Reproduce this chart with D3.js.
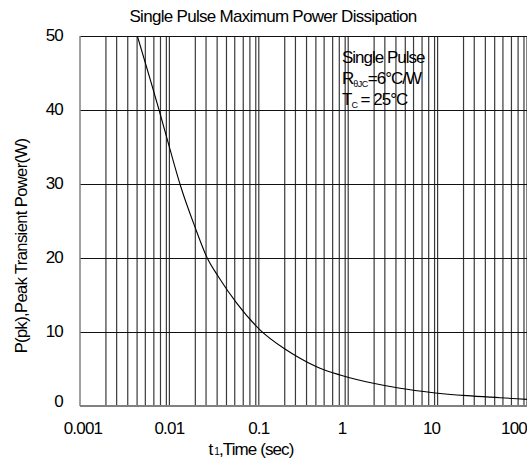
<!DOCTYPE html>
<html><head><meta charset="utf-8">
<script src="https://cdn.jsdelivr.net/npm/d3@7"></script>
<style>
html,body{margin:0;padding:0;background:#fff;}
svg{display:block;font-family:"Liberation Sans",Arial,sans-serif;}
</style></head>
<body>
<script>
// ---- data ----
const timeSec = [0.00438, 0.00766, 0.0102, 0.0132, 0.0193, 0.0265, 0.0352, 0.0566, 0.103, 0.196, 0.289, 0.484, 0.81, 1.91, 3.8, 8.95, 21.2, 49.9, 100];
const powerW  = [50, 40, 34.6, 29.9, 24.2, 20, 17.5, 13.9, 10.3, 7.7, 6.45, 5.1, 4.2, 3.07, 2.39, 1.8, 1.4, 1.12, 0.9];
const xTickValues = [0.001, 0.01, 0.1, 1, 10, 100];
const xTickLabels = ["0.001", "0.01", "0.1", "1", "10", "100"];
const yTickValues = [0, 10, 20, 30, 40, 50];
const decadeStarts = [0.001, 0.01, 0.1, 1, 10];
const gridMultipliers = [1.95, 2.57, 3.42, 4.35, 5.38, 6.7, 7.95, 9.25];
const titleText = "Single Pulse Maximum Power Dissipation";

const W = 527, H = 461;
const m = {left: 80, right: 0, top: 36, bottom: 55};
const svg = d3.select("body").append("svg").attr("width", W).attr("height", H);

const x = d3.scaleLog().domain([0.001, 100]).range([m.left, W - m.right]);
const y = d3.scaleLinear().domain([0, 50]).range([H - m.bottom, m.top]);

svg.append("defs").append("clipPath").attr("id", "clip")
  .append("rect").attr("x", m.left).attr("y", m.top)
  .attr("width", W - m.right - m.left).attr("height", H - m.bottom - m.top);

// vertical grid
const vgrid = [];
decadeStarts.forEach(d => { gridMultipliers.forEach(k => vgrid.push(d * k)); vgrid.push(d * 10); });
svg.append("g").selectAll("line").data(vgrid).join("line")
  .attr("x1", d => x(d)).attr("x2", d => x(d))
  .attr("y1", y(50)).attr("y2", y(0))
  .attr("stroke", "#3a3a3a").attr("stroke-width", 1.2);

// horizontal grid
svg.append("g").selectAll("line").data(yTickValues.filter(v => v > 0)).join("line")
  .attr("x1", m.left).attr("x2", W)
  .attr("y1", d => Math.round(y(d)) + 0.5).attr("y2", d => Math.round(y(d)) + 0.5)
  .attr("stroke", "#111").attr("stroke-width", 1);

// axes lines
svg.append("line").attr("x1", m.left).attr("x2", m.left).attr("y1", y(50)).attr("y2", y(0))
  .attr("stroke", "#808080").attr("stroke-width", 1.5);
svg.append("line").attr("x1", m.left).attr("x2", W).attr("y1", y(0)).attr("y2", y(0))
  .attr("stroke", "#808080").attr("stroke-width", 2);

// curve
const pts = timeSec.map((t, i) => [t, powerW[i]]);
svg.append("path").datum(pts)
  .attr("clip-path", "url(#clip)")
  .attr("d", d3.line().x(d => x(d[0])).y(d => y(d[1])).curve(d3.curveMonotoneX))
  .attr("fill", "none").attr("stroke", "#000").attr("stroke-width", 1.1);

// y tick labels
svg.append("g").selectAll("text").data(yTickValues).join("text")
  .attr("x", 63).attr("y", d => y(d) - (d === 0 ? 5 : 1))
  .attr("text-anchor", "end").attr("dominant-baseline", "central")
  .attr("font-size", 17).attr("letter-spacing", -0.8)
  .text(d => d);

// x tick labels
svg.append("g").selectAll("text").data(xTickValues).join("text")
  .attr("x", (d, i) => i === xTickValues.length - 1 ? W : x(d) + (i === 0 ? 3 : i >= 3 ? -6 : 0))
  .attr("y", 434)
  .attr("text-anchor", (d, i) => i === xTickValues.length - 1 ? "end" : "middle")
  .attr("font-size", 17).attr("letter-spacing", -0.8)
  .text((d, i) => xTickLabels[i]);

// title
svg.append("text").attr("x", 273).attr("y", 22).attr("text-anchor", "middle")
  .attr("font-size", 17).attr("letter-spacing", -0.7).text(titleText);

// x axis title
const xt = svg.append("text").attr("x", 251).attr("y", 455).attr("text-anchor", "middle")
  .attr("font-size", 17).attr("letter-spacing", -0.9);
xt.append("tspan").text("t");
xt.append("tspan").attr("font-size", 10).attr("dx", 2).text("1");
xt.append("tspan").text(",Time (sec)");

// y axis title
svg.append("text").attr("transform", "translate(27,246) rotate(-90)")
  .attr("text-anchor", "middle").attr("font-size", 16.5).attr("letter-spacing", -0.6)
  .text("P(pk),Peak Transient Power(W)");

// annotation
const ann = svg.append("g").attr("font-size", 17).attr("letter-spacing", -1);
ann.append("text").attr("x", 342).attr("y", 63).text("Single Pulse");
const r = ann.append("text").attr("x", 342).attr("y", 84);
r.append("tspan").text("R");
r.append("tspan").attr("font-size", 9).attr("dy", 3).attr("letter-spacing", -0.5).text("θJC");
r.append("tspan").attr("dy", -3).text("=6°C/W");
const tc = ann.append("text").attr("x", 342).attr("y", 105);
tc.append("tspan").text("T");
tc.append("tspan").attr("font-size", 9).attr("dy", 3).text("C");
tc.append("tspan").attr("dy", -3).text(" = 25°C");
</script>
</body></html>
